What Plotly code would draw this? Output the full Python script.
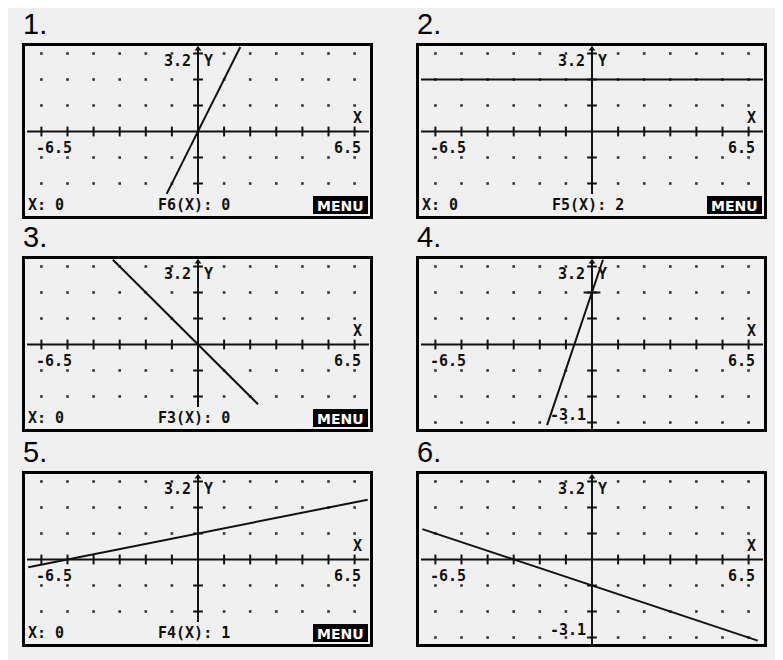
import plotly.graph_objects as go
from plotly.subplots import make_subplots

# six calculator screens (HP graphing calculator), 2 columns x 3 rows
panel_labels = ["1.", "2.", "3.", "4.", "5.", "6."]
func_readout = ["F6(X): 0", "F5(X): 2", "F3(X): 0", None, "F4(X): 1", None]
cursor_readout = "X: 0"

line_x = [[-1.2, 1.62], [-6.55, 6.55], [-3.26, 2.3], [-1.72, 0.42], [-6.5, 6.5], [-6.5, 6.35]]
line_y = [[-2.4, 3.25], [2.0, 2.0], [3.26, -2.3], [-3.1, 3.26], [-0.3, 2.3], [1.17, -3.12]]

grid_x = [-6, -5, -4, -3, -2, -1, 0, 1, 2, 3, 4, 5, 6]
grid_y = [3, 2, 1, -1, -2, -3]
xmin_label, xmax_label = "-6.5", "6.5"
ymax_label, ymin_label = "3.2", "-3.1"

# geometry (pixels); the page body adds an 8px margin, so the figure is 8px smaller
PAD = 8
W, H = 783 - PAD, 660 - PAD
col_left = [22 - PAD, 416 - PAD]
row_top = [43 - PAD, 256 - PAD, 471 - PAD]
fw, fh = 351, 176   # frame size
lw = 3              # frame line width
ox, oy = 176, 88.5  # origin inside the frame
ux, uy = 26.1, 26.0 # pixels per unit

PIX_FONT = "DejaVu Sans Mono"
INK = "#111111"


def px2x(px):
    return (px - ox) / ux


def px2y(py):
    return (oy - py) / uy


fig = make_subplots(rows=3, cols=2)

for i in range(6):
    r, c = i // 2 + 1, i % 2 + 1
    L, T = col_left[c - 1], row_top[r - 1]
    has_status = func_readout[i] is not None
    xref = "x" if i == 0 else "x%d" % (i + 1)
    yref = "y" if i == 0 else "y%d" % (i + 1)

    y_bottom = -2.4 if has_status else px2y(fh - lw)

    # dotted grid
    dx, dy = [], []
    for gy in grid_y:
        if has_status and gy < -2:
            continue
        for gx in grid_x:
            if gx != 0:
                dx.append(gx)
                dy.append(gy)
    fig.add_trace(go.Scatter(x=dx, y=dy, mode="markers",
                             marker=dict(symbol="square", size=2.6, color="#333333", line_width=0),
                             hoverinfo="skip"), row=r, col=c)

    # axes
    fig.add_trace(go.Scatter(x=[-6.55, 6.55], y=[0, 0], mode="lines",
                             line=dict(color=INK, width=2), hoverinfo="skip"), row=r, col=c)
    fig.add_trace(go.Scatter(x=[0, 0], y=[y_bottom, 3.26], mode="lines",
                             line=dict(color=INK, width=2), hoverinfo="skip"), row=r, col=c)
    fig.add_trace(go.Scatter(x=[gx for gx in grid_x if gx != 0], y=[0] * 12, mode="markers",
                             marker=dict(symbol="line-ns", size=7, line=dict(color=INK, width=2)),
                             hoverinfo="skip"), row=r, col=c)
    ty = [gy for gy in grid_y if not (has_status and gy < -2)]
    fig.add_trace(go.Scatter(x=[0] * len(ty), y=ty, mode="markers",
                             marker=dict(symbol="line-ew", size=7, line=dict(color=INK, width=2)),
                             hoverinfo="skip"), row=r, col=c)
    fig.add_trace(go.Scatter(x=[0], y=[3.17], mode="markers",
                             marker=dict(symbol="triangle-up", size=6, color=INK, line_width=0),
                             hoverinfo="skip"), row=r, col=c)

    # the graph itself
    fig.add_trace(go.Scatter(x=line_x[i], y=line_y[i], mode="lines",
                             line=dict(color=INK, width=2), hoverinfo="skip"), row=r, col=c)

    if i == 3:
        # trace cursor on the y-intercept
        fig.add_trace(go.Scatter(x=[0], y=[2], mode="markers",
                                 marker=dict(symbol="line-ew", size=12, line=dict(color=INK, width=2)),
                                 hoverinfo="skip"), row=r, col=c)

    # axis labels on screen
    txt = dict(xref=xref, yref=yref, showarrow=False,
               font=dict(family=PIX_FONT, size=15, color=INK, weight="bold"))
    fig.add_annotation(x=px2x(171), y=px2y(18), text=ymax_label, xanchor="right", yanchor="middle", **txt)
    fig.add_annotation(x=px2x(180), y=px2y(18), text="Y", xanchor="left", yanchor="middle", **txt)
    fig.add_annotation(x=px2x(335.5), y=px2y(75), text="X", xanchor="center", yanchor="middle", **txt)
    fig.add_annotation(x=px2x(12), y=px2y(104.5), text=xmin_label, xanchor="left", yanchor="middle", **txt)
    fig.add_annotation(x=px2x(341), y=px2y(104.5), text=xmax_label, xanchor="right", yanchor="middle", **txt)
    if not has_status:
        fig.add_annotation(x=px2x(172), y=px2y(159), text=ymin_label, xanchor="right", yanchor="middle", **txt)
    else:
        fig.add_annotation(x=px2x(4), y=px2y(162), text=cursor_readout, xanchor="left", yanchor="middle", **txt)
        fig.add_annotation(x=px2x(134), y=px2y(162), text=func_readout[i], xanchor="left", yanchor="middle", **txt)
        fig.add_shape(type="rect", xref=xref, yref=yref,
                      x0=px2x(291), x1=px2x(346), y0=px2y(171), y1=px2y(153),
                      fillcolor="#000000", line_width=0, layer="above")
        fig.add_annotation(x=px2x(318.5), y=px2y(162.5), text="MENU", xanchor="center", yanchor="middle",
                           xref=xref, yref=yref, showarrow=False,
                           font=dict(family="DejaVu Sans", size=14, color="#ffffff", weight="bold"))

    # panel number
    fig.add_annotation(x=(L - 1) / W, y=1 - (T - 19) / H, xref="paper", yref="paper",
                       text=panel_labels[i], showarrow=False, xanchor="left", yanchor="middle",
                       font=dict(family="Liberation Sans", size=29, color="#000000"))

    fig.update_xaxes(row=r, col=c,
                     domain=[(L + lw) / W, (L + fw - lw) / W],
                     range=[px2x(lw), px2x(fw - lw)],
                     showgrid=False, zeroline=False, showticklabels=False, ticks="",
                     showline=True, mirror=True, linecolor="#000000", linewidth=lw)
    fig.update_yaxes(row=r, col=c,
                     domain=[1 - (T + fh - lw) / H, 1 - (T + lw) / H],
                     range=[px2y(fh - lw), px2y(lw)],
                     showgrid=False, zeroline=False, showticklabels=False, ticks="",
                     showline=True, mirror=True, linecolor="#000000", linewidth=lw)

# light grey page behind the screens
fig.add_shape(type="rect", xref="paper", yref="paper", x0=0, x1=1, y0=0, y1=1,
              fillcolor="#f0f0f0", line_width=0, layer="below")

fig.update_layout(
    width=W, height=H,
    margin=dict(l=0, r=0, t=0, b=0),
    paper_bgcolor="#ffffff",
    plot_bgcolor="#ffffff",
    showlegend=False,
)

fig.write_html("out.html")
